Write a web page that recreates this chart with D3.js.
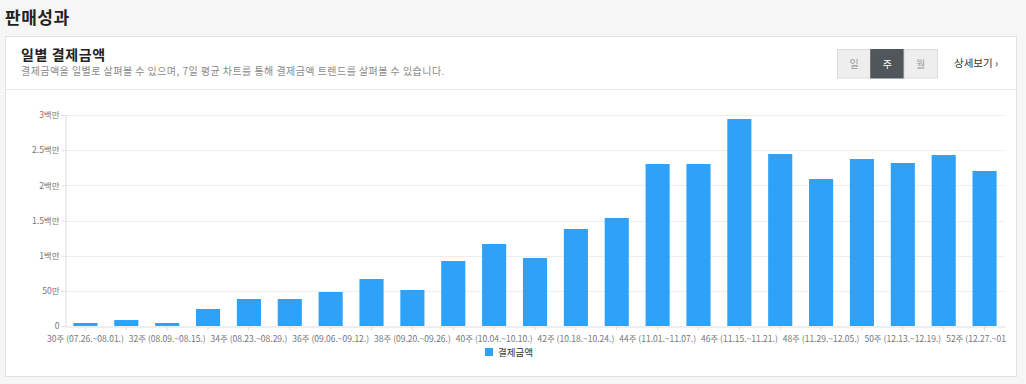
<!DOCTYPE html>
<html>
<head>
<meta charset="utf-8">
<script src="https://cdn.jsdelivr.net/npm/d3@7"></script>
<style>
  body { margin: 0; background: #f6f6f6; font-family: "Noto Sans CJK KR", "Noto Sans", sans-serif; }
  #chart { width: 1026px; height: 384px; }
</style>
</head>
<body>
<div id="chart"></div>
<script>
// weekly payment amounts (원), weeks 30 ~ 52
const weeks = [30, 31, 32, 33, 34, 35, 36, 37, 38, 39, 40, 41, 42, 43, 44, 45, 46, 47, 48, 49, 50, 51, 52];
const weekRanges = [
  "07.26.~08.01.", "08.02.~08.08.", "08.09.~08.15.", "08.16.~08.22.", "08.23.~08.29.",
  "08.30.~09.05.", "09.06.~09.12.", "09.13.~09.19.", "09.20.~09.26.", "09.27.~10.03.",
  "10.04.~10.10.", "10.11.~10.17.", "10.18.~10.24.", "10.25.~10.31.", "11.01.~11.07.",
  "11.08.~11.14.", "11.15.~11.21.", "11.22.~11.28.", "11.29.~12.05.", "12.06.~12.12.",
  "12.13.~12.19.", "12.20.~12.26.", "12.27.~01.02."
];
const amounts = [
  43000, 85000, 43000, 242000, 384000, 384000, 483000, 668000, 512000, 924000,
  1166000, 967000, 1379000, 1536000, 2303000, 2303000, 2943000, 2445000, 2090000, 2374000,
  2318000, 2431000, 2204000
];
const yTicks = [0, 500000, 1000000, 1500000, 2000000, 2500000, 3000000];
const yTickLabels = ["0", "50만", "1백만", "1.5백만", "2백만", "2.5백만", "3백만"];
const periodButtons = ["일", "주", "월"];
const seriesName = "결제금액";

const barColor = "#2ea2f8";
const width = 1026, height = 384;

const svg = d3.select("#chart").append("svg")
  .attr("width", width)
  .attr("height", height);

// page title
svg.append("text")
  .attr("x", 5).attr("y", 24)
  .attr("font-size", 17).attr("font-weight", "bold").attr("fill", "#222")
  .attr("letter-spacing", 0.5)
  .text("판매성과");

// card
svg.append("rect")
  .attr("x", 5.5).attr("y", 36.5)
  .attr("width", 1011).attr("height", 340)
  .attr("fill", "#fff").attr("stroke", "#e2e2e2");

svg.append("line")
  .attr("x1", 6).attr("x2", 1016)
  .attr("y1", 89.5).attr("y2", 89.5)
  .attr("stroke", "#e6e6e6");

svg.append("text")
  .attr("x", 21).attr("y", 60)
  .attr("font-size", 14).attr("font-weight", "bold").attr("fill", "#222")
  .attr("letter-spacing", 0.6)
  .text("일별 결제금액");

svg.append("text")
  .attr("x", 21).attr("y", 75)
  .attr("font-size", 10).attr("fill", "#8a8a8a")
  .attr("letter-spacing", 0.45)
  .text("결제금액을 일별로 살펴볼 수 있으며, 7일 평균 차트를 통해 결제금액 트렌드를 살펴볼 수 있습니다.");

// period toggle buttons
const btn = svg.append("g").attr("transform", "translate(837.5,49.5)");
btn.selectAll("rect")
  .data(periodButtons)
  .enter().append("rect")
  .attr("x", (d, i) => i * 33.3)
  .attr("y", 0)
  .attr("width", 33.3).attr("height", 28.5)
  .attr("fill", d => d === "주" ? "#505659" : "#eeeeee")
  .attr("stroke", d => d === "주" ? "#505659" : "#dcdcdc");
btn.selectAll("text")
  .data(periodButtons)
  .enter().append("text")
  .attr("x", (d, i) => i * 33.3 + 16.6)
  .attr("y", 18.5)
  .attr("text-anchor", "middle")
  .attr("font-size", 10)
  .attr("fill", d => d === "주" ? "#fff" : "#999")
  .text(d => d);

svg.append("text")
  .attr("x", 954).attr("y", 67)
  .attr("font-size", 10.5).attr("fill", "#333")
  .text("상세보기 ›");

// chart
const margin = { left: 65, right: 1005, top: 115, bottom: 326 };

const x = d3.scaleBand()
  .domain(weeks)
  .range([margin.left, margin.right])
  .paddingInner(0.41)
  .paddingOuter(0.205);

const y = d3.scaleLinear()
  .domain([0, 3000000])
  .range([margin.bottom, margin.top]);

// grid
svg.append("g")
  .selectAll("line")
  .data(yTicks.slice(1))
  .enter().append("line")
  .attr("x1", margin.left).attr("x2", margin.right)
  .attr("y1", d => Math.round(y(d)) + 0.5).attr("y2", d => Math.round(y(d)) + 0.5)
  .attr("stroke", "#eeeeee");

// y axis
const yAxis = svg.append("g")
  .attr("transform", `translate(${margin.left + 0.5},0)`)
  .call(d3.axisLeft(y).tickValues(yTicks).tickSize(4).tickSizeOuter(0)
    .tickFormat((d, i) => yTickLabels[i]));
yAxis.select(".domain").attr("stroke", "#dddddd");
yAxis.selectAll(".tick line").attr("stroke", "#dddddd");
yAxis.selectAll(".tick text")
  .attr("font-family", "'Noto Sans CJK KR', sans-serif")
  .attr("font-size", 8.5).attr("fill", "#777").attr("dx", 1);

// bars
svg.append("g")
  .selectAll("rect")
  .data(amounts)
  .enter().append("rect")
  .attr("x", (d, i) => x(weeks[i]))
  .attr("y", d => y(d))
  .attr("width", x.bandwidth())
  .attr("height", d => y(0) - y(d))
  .attr("fill", barColor);

// x axis (last label is cut at the chart edge)
svg.append("defs").append("clipPath").attr("id", "xclip")
  .append("rect").attr("x", 0).attr("y", 300).attr("width", 1007).attr("height", 60);

const xAxis = svg.append("g")
  .attr("clip-path", "url(#xclip)")
  .append("g")
  .attr("transform", `translate(0,${margin.bottom + 0.5})`)
  .call(d3.axisBottom(x).tickSize(4).tickSizeOuter(0)
    .tickFormat((d, i) => d % 2 === 0 ? `${d}주 (${weekRanges[i]})` : ""));
xAxis.select(".domain").attr("stroke", "#dddddd");
xAxis.selectAll(".tick line").attr("stroke", "#dddddd");
xAxis.selectAll(".tick text")
  .attr("font-family", "'Noto Sans CJK KR', sans-serif")
  .attr("font-size", 8.5).attr("fill", "#777").attr("dy", "0.95em");

// legend
const legend = svg.append("g").attr("transform", "translate(485,348)");
legend.append("rect")
  .attr("width", 8).attr("height", 8)
  .attr("fill", barColor);
legend.append("text")
  .attr("x", 13).attr("y", 8)
  .attr("font-size", 9.5).attr("fill", "#333")
  .text(seriesName);
</script>
</body>
</html>
